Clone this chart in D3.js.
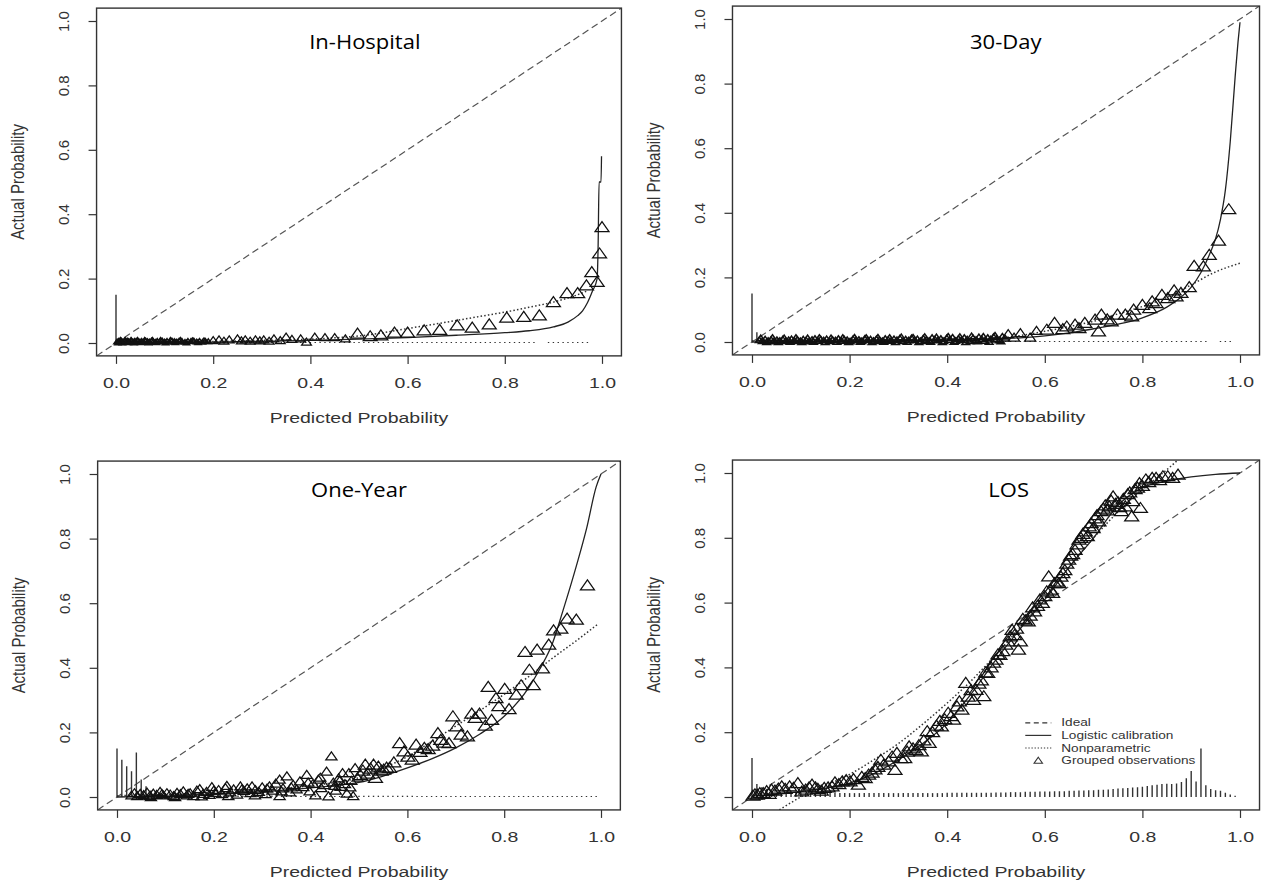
<!DOCTYPE html>
<html>
<head>
<meta charset="utf-8">
<script src="https://cdn.jsdelivr.net/npm/d3@7"></script>
<style>
    body { margin: 0; background: #fff; }
    svg { display: block; }
    .axis-text { font-family: "Liberation Sans", Arial, sans-serif; font-size: 15px; fill: #333; }
    .legend-text { font-family: "Liberation Sans", Arial, sans-serif; font-size: 10.5px; fill: #333; }
    .title { font-family: "Open Sans", sans-serif; font-size: 20px; fill: #000; }
</style>
</head>
<body>
<svg id="fig" width="1261" height="885"></svg>
<script>
const panelTitles = ["In-Hospital", "30-Day", "One-Year", "LOS"];
const tickValues = [0, 0.2, 0.4, 0.6, 0.8, 1.0];
const legendLabels = ["Ideal", "Logistic calibration", "Nonparametric", "Grouped observations"];

// grouped observations [predicted, actual]
const inHospitalPoints = [
    [0.002,0.004],[0.005,0.006],[0.008,0.003],[0.011,0.007],[0.014,0.004],[0.017,0.006],[0.02,0.003],
    [0.023,0.007],[0.026,0.005],[0.029,0.004],[0.032,0.007],[0.035,0.003],[0.038,0.006],[0.041,0.005],
    [0.045,0.007],[0.049,0.004],[0.053,0.006],[0.057,0.003],[0.061,0.007],[0.065,0.005],[0.069,0.004],
    [0.073,0.007],[0.077,0.005],[0.081,0.003],[0.085,0.006],[0.09,0.005],[0.095,0.007],[0.1,0.004],
    [0.105,0.006],[0.11,0.003],[0.115,0.007],[0.12,0.005],[0.125,0.004],[0.13,0.007],[0.136,0.005],
    [0.142,0.003],[0.148,0.006],[0.154,0.005],[0.16,0.007],[0.166,0.004],[0.172,0.006],[0.178,0.003],
    [0.184,0.006],[0.19,0.005],
    [0.004,0.001],[0.009,0.009],[0.013,0.001],[0.019,0.009],[0.025,0.002],[0.031,0.009],[0.037,0.001],
    [0.044,0.009],[0.051,0.002],[0.059,0.009],[0.067,0.001],[0.075,0.009],[0.083,0.002],[0.092,0.009],
    [0.102,0.001],[0.112,0.009],[0.122,0.002],[0.133,0.009],[0.145,0.001],[0.157,0.008],[0.169,0.002],
    [0.181,0.008],
    [0.2,0.008],[0.212,0.01],[0.222,0.006],[0.233,0.01],[0.25,0.013],[0.258,0.007],[0.266,0.01],
    [0.276,0.006],[0.287,0.01],[0.296,0.007],[0.304,0.01],[0.315,0.006],[0.325,0.013],[0.338,0.008],
    [0.35,0.019],[0.362,0.012],[0.38,0.013],[0.392,0.003],[0.409,0.019],[0.43,0.017],[0.45,0.017],
    [0.472,0.013],[0.497,0.029],[0.523,0.021],[0.545,0.024],[0.573,0.032],[0.6,0.032],[0.634,0.039],
    [0.666,0.041],[0.702,0.055],[0.733,0.048],[0.768,0.058],[0.804,0.079],[0.839,0.081],[0.871,0.086],
    [0.9,0.127],[0.928,0.155],[0.95,0.155],[0.968,0.179],[0.979,0.22],[0.99,0.19],[0.995,0.278],[1.0,0.36]
];
const inHospitalLogistic = [
    [0,0.001],[0.1,0.002],[0.2,0.003],[0.3,0.005],[0.4,0.008],[0.5,0.012],[0.6,0.017],[0.7,0.024],
    [0.8,0.032],[0.85,0.038],[0.9,0.05],[0.93,0.065],[0.95,0.085],[0.96,0.1],[0.97,0.125],[0.98,0.16],
    [0.99,0.2],[0.992,0.3],[0.994,0.5],[0.998,0.5],[0.999,0.58]
];
const inHospitalSmooth = [
    [0,0.003],[0.2,0.005],[0.3,0.008],[0.4,0.012],[0.45,0.016],[0.5,0.022],[0.55,0.032],[0.6,0.045],
    [0.65,0.057],[0.7,0.07],[0.75,0.083],[0.8,0.096],[0.85,0.111],[0.9,0.127],[0.95,0.15],[0.97,0.162]
];
const inHospitalSpikes = [
    0.15,0.003,0.003,0.003,0.003,0.003,0.003,0.003,0.003,0.003,0.003,0.003,0.003,0.003,0.003,0.003,0.003,0.003,0.003,0.003,
    0.003,0.003,0.003,0.003,0.003,0.003,0.003,0.003,0.003,0.003,0.003,0.003,0.003,0.003,0.003,0.003,0.003,0.003,0.003,0.003,
    0.003,0.003,0.003,0.003,0.003,0.003,0.003,0.003,0.003,0.003,0.003,0.003,0.003,0.003,0.003,0.003,0.003,0.003,0.003,0.003,
    0.003,0.003,0.003,0.003,0.003,0.003,0.003,0.003,0.003,0.003,0.003,0.003,0.003,0.003,0.003,0.003,0.003,0.003,0.003,0.003,
    0.003,0.003,0.003,0.003,0.003,0.003,0.003,0,0,0.003,0.003,0.003,0.003,0.003,0.003,0.003,0.003,0.003,0,0
];

const thirtyDayPoints = [
    [0.015,0.006],[0.021,0.003],[0.027,0.008],[0.033,0.004],[0.039,0.007],[0.045,0.002],[0.051,0.006],
    [0.057,0.004],[0.063,0.008],[0.069,0.003],[0.075,0.006],[0.081,0.009],[0.087,0.004],[0.093,0.007],
    [0.099,0.003],[0.105,0.008],[0.111,0.005],[0.117,0.002],[0.123,0.007],[0.129,0.01],[0.135,0.004],
    [0.141,0.008],[0.147,0.005],[0.153,0.009],[0.159,0.003],[0.165,0.007],[0.171,0.005],[0.177,0.01],
    [0.183,0.004],[0.189,0.008],[0.195,0.006],[0.201,0.002],[0.207,0.009],[0.213,0.005],[0.219,0.007],
    [0.225,0.003],[0.231,0.01],[0.237,0.006],[0.243,0.008],[0.249,0.004],[0.255,0.009],[0.261,0.006],
    [0.267,0.003],[0.273,0.01],[0.279,0.007],[0.285,0.004],[0.291,0.009],[0.297,0.006],[0.303,0.011],
    [0.309,0.003],[0.315,0.008],[0.321,0.005],[0.327,0.012],[0.333,0.006],[0.339,0.009],[0.345,0.003],
    [0.351,0.011],[0.357,0.007],[0.363,0.004],[0.369,0.013],[0.375,0.008],[0.381,0.005],[0.387,0.01],
    [0.393,0.003],[0.399,0.012],[0.405,0.007],[0.411,0.014],[0.417,0.004],[0.423,0.01],[0.429,0.006],
    [0.435,0.013],[0.441,0.008],[0.447,0.003],[0.453,0.012],[0.459,0.007],[0.465,0.015],[0.471,0.009],
    [0.477,0.004],[0.483,0.013],[0.489,0.008],[0.495,0.016],[0.501,0.01],[0.507,0.005],[0.513,0.017],
    [0.519,0.011],
    [0.018,0.012],[0.03,0.0],[0.042,0.013],[0.054,0.0],[0.066,0.012],[0.078,0.001],[0.09,0.013],
    [0.102,0.0],[0.114,0.012],[0.126,0.001],[0.138,0.013],[0.15,0.0],[0.162,0.012],[0.174,0.001],
    [0.186,0.013],[0.198,0.0],[0.21,0.014],[0.222,0.001],[0.234,0.013],[0.246,0.0],[0.258,0.014],
    [0.27,0.001],[0.282,0.013],[0.294,0.0],[0.306,0.015],[0.318,0.001],[0.33,0.014],[0.342,0.0],
    [0.354,0.016],[0.366,0.001],[0.378,0.015],[0.39,0.0],[0.402,0.017],[0.414,0.001],[0.426,0.016],
    [0.438,0.0],[0.45,0.018],[0.462,0.002],[0.474,0.017],[0.486,0.001],[0.498,0.02],[0.51,0.002],
    [0.525,0.025],[0.537,0.014],[0.55,0.028],[0.57,0.014],[0.583,0.035],[0.604,0.038],[0.62,0.059],
    [0.637,0.04],[0.645,0.048],[0.662,0.054],[0.67,0.043],[0.682,0.059],[0.703,0.069],[0.71,0.033],
    [0.716,0.085],[0.728,0.07],[0.736,0.064],[0.749,0.085],[0.765,0.085],[0.778,0.079],[0.782,0.1],
    [0.8,0.115],[0.815,0.105],[0.82,0.126],[0.828,0.12],[0.84,0.146],[0.852,0.136],[0.865,0.16],
    [0.869,0.141],[0.879,0.152],[0.896,0.17],[0.906,0.236],[0.925,0.234],[0.937,0.27],[0.956,0.314],[0.977,0.411]
];
const thirtyDayLogistic = [
    [0,0.0],[0.1,0.001],[0.2,0.002],[0.3,0.003],[0.4,0.005],[0.5,0.009],[0.55,0.013],[0.6,0.019],
    [0.65,0.028],[0.7,0.041],[0.75,0.055],[0.8,0.075],[0.85,0.108],[0.88,0.14],[0.9,0.17],[0.92,0.215],
    [0.94,0.28],[0.95,0.32],[0.96,0.38],[0.97,0.47],[0.98,0.62],[0.99,0.82],[0.996,0.93],[1.0,0.99]
];
const thirtyDaySmooth = [
    [0,0.004],[0.2,0.005],[0.4,0.008],[0.5,0.012],[0.55,0.02],[0.6,0.033],[0.65,0.048],[0.7,0.064],
    [0.75,0.087],[0.8,0.11],[0.85,0.138],[0.9,0.177],[0.95,0.217],[1.0,0.244]
];
const thirtyDaySpikes = [
    0.15,0.03,0.003,0.003,0.003,0.003,0.003,0.003,0.003,0.003,0.003,0.003,0.003,0.003,0.003,0.003,0.003,0.003,0.003,0.003,
    0.003,0.003,0.003,0.003,0.003,0.003,0.003,0.003,0.003,0.003,0.003,0.003,0.003,0.003,0.003,0.003,0.003,0.003,0.003,0.003,
    0.003,0.003,0.003,0.003,0.003,0.003,0.003,0.003,0.003,0.003,0.003,0.003,0.003,0.003,0.003,0.003,0.003,0.003,0.003,0.003,
    0.003,0.003,0.003,0.003,0.003,0.003,0.003,0.003,0.003,0.003,0.003,0.003,0.003,0.003,0.003,0.003,0.003,0.003,0.003,0.003,
    0.003,0.003,0.003,0.003,0.003,0.003,0.003,0.003,0.003,0.003,0.003,0.003,0.003,0.003,0,0,0.003,0.003,0.003,0
];

const oneYearPoints = [
    [0.03,0.005],[0.036,0.012],[0.042,0.003],[0.048,0.01],[0.055,0.006],[0.062,0.014],[0.068,0.004],
    [0.075,0.011],[0.082,0.007],[0.089,0.016],[0.096,0.005],[0.103,0.012],[0.11,0.008],[0.117,0.003],
    [0.124,0.013],[0.131,0.009],[0.137,0.018],[0.144,0.005],[0.151,0.012],[0.158,0.003],[0.165,0.02],
    [0.171,0.025],[0.178,0.01],[0.185,0.016],[0.191,0.007],[0.196,0.031],[0.203,0.013],[0.21,0.022],
    [0.217,0.009],[0.224,0.028],[0.227,0.035],[0.234,0.015],[0.241,0.024],[0.248,0.008],[0.255,0.033],
    [0.262,0.019],[0.269,0.027],[0.276,0.012],[0.279,0.033],[0.286,0.022],[0.293,0.016],[0.3,0.03],
    [0.307,0.009],[0.315,0.033],[0.321,0.02],[0.328,0.042],[0.336,0.054],[0.336,0.003],[0.343,0.027],
    [0.351,0.064],[0.357,0.015],[0.364,0.038],[0.371,0.024],[0.378,0.049],[0.385,0.031],[0.392,0.069],
    [0.398,0.018],[0.405,0.041],[0.41,0.005],[0.416,0.054],[0.422,0.028],[0.428,0.037],[0.433,0.079],
    [0.437,0.002],[0.443,0.126],[0.447,0.045],[0.452,0.02],[0.458,0.058],[0.462,0.032],[0.466,0.074],
    [0.471,0.04],[0.475,0.011],[0.479,0.074],[0.484,0.05],[0.488,0.003],[0.492,0.09],[0.497,0.06],
    [0.07,0.0],[0.093,0.009],[0.12,0.0],[0.147,0.01],[0.175,0.002],[0.2,0.02],[0.23,0.003],
    [0.258,0.024],[0.285,0.005],[0.31,0.026],[0.34,0.018],[0.36,0.03],[0.395,0.045],[0.42,0.06],
    [0.45,0.035],[0.46,0.05],[0.482,0.03],
    [0.503,0.068],[0.508,0.082],[0.513,0.1],[0.518,0.072],[0.524,0.088],[0.53,0.1],[0.534,0.059],
    [0.54,0.094],[0.546,0.082],[0.551,0.085],[0.557,0.091],[0.563,0.09],[0.572,0.107],[0.584,0.167],
    [0.593,0.141],[0.601,0.125],[0.61,0.116],[0.618,0.162],[0.626,0.14],[0.635,0.152],[0.643,0.148],
    [0.652,0.159],[0.663,0.198],[0.669,0.177],[0.676,0.168],[0.686,0.167],[0.694,0.25],[0.702,0.219],
    [0.711,0.193],[0.724,0.188],[0.733,0.258],[0.74,0.245],[0.749,0.258],[0.761,0.221],[0.767,0.341],
    [0.774,0.239],[0.783,0.306],[0.789,0.281],[0.801,0.335],[0.81,0.272],[0.825,0.317],[0.835,0.346],
    [0.843,0.449],[0.852,0.394],[0.86,0.346],[0.868,0.456],[0.879,0.398],[0.892,0.472],[0.902,0.516],
    [0.917,0.521],[0.93,0.552],[0.949,0.549],[0.972,0.655]
];
const oneYearLogistic = [
    [0,0.0],[0.1,0.003],[0.2,0.008],[0.3,0.016],[0.4,0.028],[0.45,0.035],[0.5,0.045],[0.55,0.065],
    [0.6,0.09],[0.65,0.118],[0.7,0.152],[0.75,0.195],[0.8,0.25],[0.85,0.337],[0.875,0.4],[0.9,0.477],
    [0.92,0.57],[0.95,0.72],[0.97,0.83],[0.99,0.96],[1.0,1.0]
];
const oneYearSmooth = [
    [0,0.004],[0.1,0.008],[0.2,0.014],[0.3,0.022],[0.4,0.035],[0.45,0.045],[0.5,0.06],[0.55,0.09],
    [0.6,0.125],[0.65,0.172],[0.7,0.22],[0.75,0.268],[0.8,0.318],[0.85,0.372],[0.9,0.43],[0.95,0.485],[0.995,0.537]
];
const oneYearSpikes = [
    0.15,0.115,0.095,0.08,0.138,0.054,0.033,0.02,0.015,0.012,0.01,0.008,0.006,0.005,0.005,0.005,0.005,0.005,0.005,0.005,
    0.005,0.005,0.005,0.005,0.005,0.005,0.005,0.005,0.005,0.005,0.005,0.005,0.005,0.005,0.005,0.005,0.005,0.005,0.003,0.003,
    0.003,0.003,0.003,0.003,0.003,0.003,0.003,0.003,0.003,0.004,0.004,0.004,0.004,0.004,0.004,0.004,0.004,0.004,0.004,0.004,
    0.004,0.004,0.003,0.003,0.003,0.003,0.003,0.003,0.003,0.003,0.003,0.003,0.003,0.003,0.003,0.003,0.003,0.003,0.003,0.003,
    0.003,0.003,0.003,0.003,0.003,0.003,0.003,0.003,0.003,0.003,0.003,0.003,0.003,0.003,0.003,0.003,0.003,0.003,0.003,0.003
];

const losPoints = [
    [0.002,0.004],[0.006,0.008],[0.011,0.007],[0.016,0.012],[0.023,0.012],[0.03,0.018],[0.035,0.01],
    [0.04,0.023],[0.047,0.02],[0.054,0.026],[0.061,0.033],[0.068,0.025],[0.077,0.033],[0.085,0.028],
    [0.094,0.043],[0.102,0.017],[0.11,0.023],[0.117,0.03],[0.123,0.038],[0.13,0.03],[0.135,0.025],
    [0.142,0.02],[0.148,0.028],[0.156,0.03],[0.164,0.033],[0.17,0.045],[0.178,0.04],[0.185,0.048],
    [0.193,0.052],[0.201,0.048],[0.208,0.055],[0.218,0.038],[0.225,0.062],[0.232,0.058],[0.239,0.069],
    [0.246,0.075],[0.252,0.085],[0.258,0.093],[0.264,0.115],[0.27,0.1],[0.28,0.11],[0.287,0.125],
    [0.293,0.084],[0.297,0.136],[0.305,0.12],[0.313,0.12],[0.318,0.14],[0.322,0.156],[0.33,0.15],
    [0.336,0.145],[0.342,0.16],[0.347,0.141],[0.352,0.175],[0.359,0.203],[0.363,0.167],[0.37,0.2],
    [0.378,0.22],[0.385,0.235],[0.388,0.218],[0.395,0.24],[0.402,0.26],[0.408,0.25],[0.413,0.239],
    [0.42,0.28],[0.425,0.295],[0.43,0.27],[0.438,0.352],[0.443,0.31],[0.449,0.33],[0.454,0.3],
    [0.459,0.331],[0.465,0.35],[0.47,0.36],[0.475,0.311],[0.479,0.385],[0.483,0.383],[0.49,0.4],
    [0.495,0.415],[0.5,0.424],[0.504,0.44],[0.508,0.439],[0.514,0.45],[0.52,0.47],[0.525,0.48],
    [0.529,0.496],[0.533,0.516],[0.538,0.5],[0.542,0.52],[0.546,0.455],[0.55,0.48],[0.555,0.55],
    [0.56,0.545],[0.566,0.542],[0.57,0.56],[0.575,0.585],[0.579,0.573],[0.585,0.59],[0.59,0.61],
    [0.595,0.599],[0.6,0.62],[0.604,0.635],[0.608,0.681],[0.612,0.64],[0.616,0.63],[0.62,0.66],
    [0.625,0.665],[0.629,0.66],[0.633,0.68],[0.637,0.691],[0.641,0.7],[0.645,0.72],[0.649,0.733],
    [0.653,0.745],[0.657,0.75],[0.662,0.763],[0.666,0.78],[0.67,0.794],[0.674,0.8],[0.678,0.812],
    [0.683,0.82],[0.687,0.805],[0.691,0.835],[0.695,0.845],[0.699,0.83],[0.703,0.86],[0.707,0.87],
    [0.711,0.851],[0.715,0.882],[0.72,0.89],[0.724,0.9],[0.728,0.885],[0.732,0.897],[0.736,0.915],
    [0.74,0.928],[0.745,0.905],[0.75,0.91],[0.753,0.895],[0.757,0.882],[0.761,0.92],[0.765,0.897],
    [0.77,0.935],[0.774,0.94],[0.778,0.866],[0.78,0.913],[0.785,0.95],[0.79,0.955],[0.794,0.969],
    [0.796,0.892],[0.8,0.96],[0.807,0.98],[0.813,0.972],[0.82,0.985],[0.828,0.985],[0.835,0.978],
    [0.842,0.99],[0.852,0.99],[0.862,0.985],[0.873,0.995]
];
const losLogistic = [
    [0,0.003],[0.05,0.008],[0.1,0.017],[0.15,0.027],[0.2,0.043],[0.25,0.072],[0.3,0.115],[0.35,0.165],
    [0.4,0.228],[0.45,0.32],[0.5,0.424],[0.55,0.52],[0.6,0.609],[0.65,0.71],[0.7,0.8],[0.75,0.9],
    [0.8,0.955],[0.85,0.975],[0.9,0.988],[0.95,0.996],[1.0,1.0]
];
const losSmooth = [
    [0.056,-0.04],[0.1,0.0],[0.15,0.035],[0.2,0.07],[0.25,0.115],[0.3,0.165],[0.35,0.225],[0.4,0.29],
    [0.45,0.36],[0.5,0.44],[0.55,0.525],[0.6,0.615],[0.65,0.71],[0.7,0.8],[0.75,0.88],[0.8,0.95],
    [0.85,1.01],[0.88,1.05]
];
const losSpikes = [
    0.12,0.04,0.03,0.025,0.015,0.012,0.012,0.012,0.012,0.012,0.012,0.012,0.012,0.012,0.012,0.012,0.012,0.012,0.012,0.012,
    0.012,0.012,0.012,0.012,0.012,0.012,0.012,0.012,0.012,0.012,0.012,0.012,0.012,0.012,0.012,0.012,0.012,0.012,0.012,0.012,
    0.013,0.013,0.013,0.013,0.013,0.013,0.013,0.013,0.013,0.013,0.014,0.014,0.014,0.015,0.015,0.015,0.016,0.016,0.016,0.017,
    0.017,0.017,0.018,0.018,0.018,0.019,0.019,0.02,0.02,0.021,0.021,0.022,0.022,0.023,0.025,0.026,0.027,0.028,0.029,0.03,
    0.032,0.034,0.036,0.038,0.04,0.041,0.04,0.042,0.046,0.058,0.08,0.048,0.15,0.036,0.025,0.021,0.019,0.013,0.008,0.004
];

// layout of the four panels (pixel positions of the 0 and 1 ticks)
const panels = [
    { title: panelTitles[0], points: inHospitalPoints, logistic: inHospitalLogistic, smooth: inHospitalSmooth,
      spikes: inHospitalSpikes, left: 116, width: 486, top: 21, height: 322, titleAt: [0.512, 0.936],
      markSizes: [[0.195, 0.45], [0.48, 0.7]] },
    { title: panelTitles[1], points: thirtyDayPoints, logistic: thirtyDayLogistic, smooth: thirtyDaySmooth,
      spikes: thirtyDaySpikes, left: 752, width: 488, top: 19, height: 323, titleAt: [0.52, 0.93],
      markSizes: [[0.522, 0.55], [0.6, 0.8]] },
    { title: panelTitles[2], points: oneYearPoints, logistic: oneYearLogistic, smooth: oneYearSmooth,
      spikes: oneYearSpikes, left: 117, width: 484, top: 474, height: 323, titleAt: [0.5, 0.951],
      markSizes: [[0.5, 0.8]] },
    { title: panelTitles[3], points: losPoints, logistic: losLogistic, smooth: losSmooth,
      spikes: losSpikes, left: 752, width: 488, top: 473, height: 324, titleAt: [0.526, 0.948],
      markSizes: [], legend: true }
];

var fig = d3.select("#fig");

function triPath(s) {
    return "M0," + (-5.5 * s) + "L" + (7 * s) + "," + (4.5 * s) + "L" + (-7 * s) + "," + (4.5 * s) + "Z";
}

function markSize(p, v) {
    for (var i = 0; i < p.markSizes.length; i++) {
        if (v < p.markSizes[i][0]) return p.markSizes[i][1];
    }
    return 1;
}

function makePanel(p, idx) {
    var lo = -0.04, hi = 1.04;

    var x = d3.scaleLinear().domain([0, 1]).range([p.left, p.left + p.width]);
    var y = d3.scaleLinear().domain([0, 1]).range([p.top + p.height, p.top]);

    var g = fig.append("g");

    g.append("clipPath")
        .attr("id", "clip" + idx)
        .append("rect")
        .attr("x", x(lo)).attr("y", y(hi))
        .attr("width", x(hi) - x(lo)).attr("height", y(lo) - y(hi));

    // axes: ticks below and left of the box, labels drawn by hand
    var xAxis = d3.axisBottom(x).tickValues(tickValues).tickSize(8).tickFormat(d3.format(".1f"));
    var gx = g.append("g")
        .attr("transform", "translate(0," + y(lo) + ")")
        .call(xAxis);
    gx.select(".domain").remove();
    gx.selectAll(".tick line").attr("stroke", "#333").attr("stroke-width", 1.2);
    gx.selectAll(".tick text")
        .attr("class", "axis-text")
        .attr("y", 27)
        .attr("dy", "0.35em")
        .attr("transform", "scale(1.3,1)");

    var yAxis = d3.axisLeft(y).tickValues(tickValues).tickSize(8).tickFormat(d3.format(".1f"));
    var gy = g.append("g")
        .attr("transform", "translate(" + x(lo) + ",0)")
        .call(yAxis);
    gy.select(".domain").remove();
    gy.selectAll(".tick line").attr("stroke", "#333").attr("stroke-width", 1.2);
    gy.selectAll(".tick text")
        .attr("class", "axis-text")
        .attr("x", 0)
        .attr("dy", "0.35em")
        .attr("text-anchor", "middle")
        .attr("transform", "translate(-33,0) rotate(-90)");

    g.append("text")
        .attr("class", "axis-text")
        .attr("text-anchor", "middle")
        .attr("dy", "0.35em")
        .attr("transform", "translate(" + ((x(lo) + x(hi)) / 2) + "," + (y(lo) + 62) + ") scale(1.3,1)")
        .text("Predicted Probability");

    g.append("text")
        .attr("class", "axis-text")
        .attr("text-anchor", "middle")
        .attr("dy", "0.35em")
        .attr("transform", "translate(" + (x(lo) - 79) + "," + ((y(lo) + y(hi)) / 2) + ") rotate(-90) scale(1,1.2)")
        .text("Actual Probability");

    var plot = g.append("g").attr("clip-path", "url(#clip" + idx + ")");

    var lineMaker = d3.line()
        .x(d => x(d[0]))
        .y(d => y(d[1]));

    // ideal
    plot.append("path")
        .attr("fill", "none")
        .attr("stroke", "#555")
        .attr("stroke-width", 1.2)
        .attr("stroke-dasharray", "7,4")
        .attr("d", lineMaker([[lo, lo], [hi, hi]]));

    // distribution of predictions
    plot.append("g")
        .selectAll("line")
        .data(p.spikes.map((h, i) => [i / 100, h]).filter(d => d[1] > 0))
        .enter()
        .append("line")
        .attr("x1", d => x(d[0]))
        .attr("x2", d => x(d[0]))
        .attr("y1", y(0))
        .attr("y2", d => Math.min(y(d[1]), y(0) - 1))
        .attr("stroke", "#333")
        .attr("stroke-width", 1.4);

    var curved = d3.line()
        .x(d => x(d[0]))
        .y(d => y(d[1]))
        .curve(d3.curveMonotoneX);

    plot.append("path")
        .attr("fill", "none")
        .attr("stroke", "#333")
        .attr("stroke-width", 1.5)
        .attr("stroke-dasharray", "1.5,2.2")
        .attr("d", curved(p.smooth));

    plot.append("path")
        .attr("fill", "none")
        .attr("stroke", "#222")
        .attr("stroke-width", 1.3)
        .attr("d", curved(p.logistic));

    plot.append("g")
        .selectAll("path")
        .data(p.points)
        .enter()
        .append("path")
        .attr("d", d => triPath(markSize(p, d[0])))
        .attr("transform", d => "translate(" + x(d[0]) + "," + y(d[1]) + ")")
        .attr("fill", "none")
        .attr("stroke", "#111")
        .attr("stroke-width", d => markSize(p, d[0]) < 0.6 ? 1.5 : 1.25);

    g.append("rect")
        .attr("x", x(lo)).attr("y", y(hi))
        .attr("width", x(hi) - x(lo)).attr("height", y(lo) - y(hi))
        .attr("fill", "none")
        .attr("stroke", "#333")
        .attr("stroke-width", 1.4);

    g.append("text")
        .attr("class", "title")
        .attr("text-anchor", "middle")
        .attr("dy", "0.35em")
        .attr("transform", "translate(" + x(p.titleAt[0]) + "," + y(p.titleAt[1]) + ") scale(1.1,1)")
        .text(p.title);

    if (p.legend) {
        var lx = x(0.56), ly = y(0.229), step = 12.6;
        var styles = [
            { dash: "5,3.5" }, { dash: null }, { dash: "1.3,1.8" }
        ];
        styles.forEach(function (s, i) {
            g.append("line")
                .attr("x1", lx).attr("x2", lx + 26)
                .attr("y1", ly + i * step).attr("y2", ly + i * step)
                .attr("stroke", "#333")
                .attr("stroke-width", 1.2)
                .attr("stroke-dasharray", s.dash);
        });
        g.append("path")
            .attr("d", triPath(0.6))
            .attr("transform", "translate(" + (lx + 13) + "," + (ly + 3 * step) + ")")
            .attr("fill", "none")
            .attr("stroke", "#333")
            .attr("stroke-width", 1.1);
        legendLabels.forEach(function (t, i) {
            g.append("text")
                .attr("class", "legend-text")
                .attr("dy", "0.35em")
                .attr("transform", "translate(" + (lx + 36) + "," + (ly + i * step) + ") scale(1.3,1)")
                .text(t);
        });
    }
}

panels.forEach(makePanel);
</script>
</body>
</html>
